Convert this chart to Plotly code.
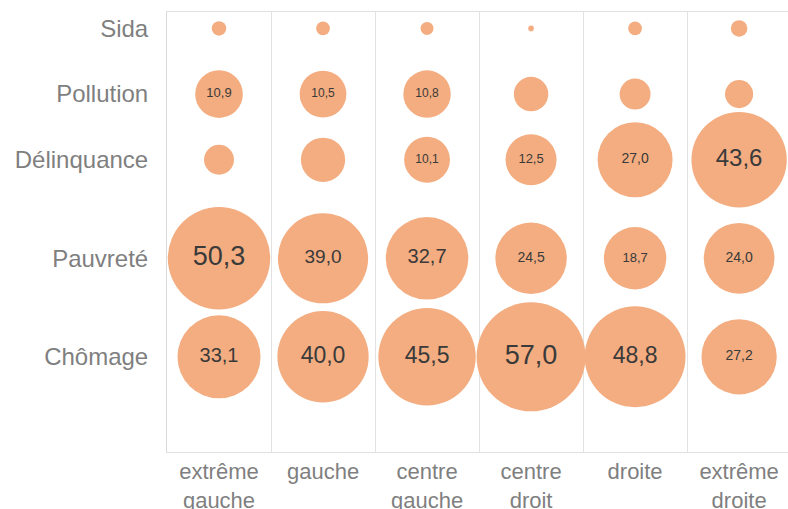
import numpy as np
import plotly.graph_objects as go

# Camps politiques (colonnes) et préoccupations (lignes)
CAMPS = ['extrême<br>gauche', 'gauche', 'centre<br>gauche', 'centre<br>droit',
         'droite', 'extrême<br>droite']
ISSUES = ['Sida', 'Pollution', 'Délinquance', 'Pauvreté', 'Chômage']

# % par camp (valeurs < 10 non étiquetées, estimées d'après la taille des bulles)
SIDA = [1.0, 0.9, 0.8, 0.15, 0.9, 1.3]
POLLUTION = [10.9, 10.5, 10.8, 5.7, 4.6, 3.8]
DELINQUANCE = [4.3, 9.4, 10.1, 12.5, 27.0, 43.6]
PAUVRETE = [50.3, 39.0, 32.7, 24.5, 18.7, 24.0]
CHOMAGE = [33.1, 40.0, 45.5, 57.0, 48.8, 27.2]

VALUES = [SIDA, POLLUTION, DELINQUANCE, PAUVRETE, CHOMAGE]

# --- layout / style ---
ROW_Y = {'Sida': 11, 'Pollution': 9, 'Délinquance': 7, 'Pauvreté': 4, 'Chômage': 1}
LABEL_MIN = 10
MAX_DIAMETER = 109
BUBBLE = '#F3AD80'
TEXT_DARK = '#3a3a3a'
AXIS_GREY = '#7f7f7f'
LINE_GREY = '#e2e2e2'
FONT = 'Liberation Sans, Arial, sans-serif'

# label font size per cell (None = no label)
LABEL_SIZE = [
    [None, None, None, None, None, None],
    [13, 12, 12, None, None, None],
    [None, None, 12, 13, 14, 24],
    [27, 19, 20, 14, 13, 14],
    [20, 23, 23, 27, 23, 14],
]

xs, ys, vals, txt, txt_x, txt_y, txt_size = [], [], [], [], [], [], []
for r, issue in enumerate(ISSUES):
    for c, v in enumerate(VALUES[r]):
        xs.append(c)
        ys.append(ROW_Y[issue])
        vals.append(v)
        if v >= LABEL_MIN:
            txt.append(f"{v:.1f}".replace('.', ','))
            txt_x.append(c)
            txt_y.append(ROW_Y[issue])
            txt_size.append(LABEL_SIZE[r][c])

fig = go.Figure()

fig.add_trace(go.Scatter(
    x=xs, y=ys,
    mode='markers',
    marker=dict(
        size=vals,
        sizemode='area',
        sizeref=2 * max(vals) / MAX_DIAMETER ** 2,
        color=BUBBLE,
        line=dict(width=0),
        opacity=1,
    ),
    hovertemplate='%{marker.size:.1f}<extra></extra>',
    showlegend=False,
))

fig.add_trace(go.Scatter(
    x=txt_x, y=txt_y,
    mode='text',
    text=txt,
    textposition='middle center',
    textfont=dict(family=FONT, size=txt_size, color=TEXT_DARK),
    hoverinfo='skip',
    showlegend=False,
))

fig.update_layout(
    width=788, height=509,
    margin=dict(l=167, r=0, t=12, b=57),
    paper_bgcolor='white',
    plot_bgcolor='white',
    font=dict(family=FONT, color=AXIS_GREY),
    xaxis=dict(
        range=[-0.5, 5.47],
        automargin=False,
        tickmode='array',
        tickvals=list(range(len(CAMPS))),
        ticktext=CAMPS,
        tickfont=dict(size=22, color=AXIS_GREY),
        ticks='',
        showgrid=False, zeroline=False,
        showline=True, mirror=True, linecolor=LINE_GREY, linewidth=1,
        minor=dict(tick0=-0.5, dtick=1, showgrid=True,
                   gridcolor=LINE_GREY, gridwidth=1, ticks=''),
        fixedrange=True,
    ),
    yaxis=dict(
        range=[-1.9, 11.5],
        automargin=False,
        tickmode='array',
        tickvals=[ROW_Y[i] for i in ISSUES],
        ticktext=ISSUES,
        tickfont=dict(size=24, color=AXIS_GREY),
        ticks='outside', ticklen=13, tickcolor='rgba(0,0,0,0)',
        showgrid=False, zeroline=False,
        showline=True, linecolor='#d9d9d9', linewidth=1,
        fixedrange=True,
    ),
)

# page body has a default 8px margin: drop it so the figure fills the window
fig.write_html("out.html",
               config={'displayModeBar': False},
               post_script="document.body.style.margin='0';"
                           "document.body.style.overflow='hidden';")
